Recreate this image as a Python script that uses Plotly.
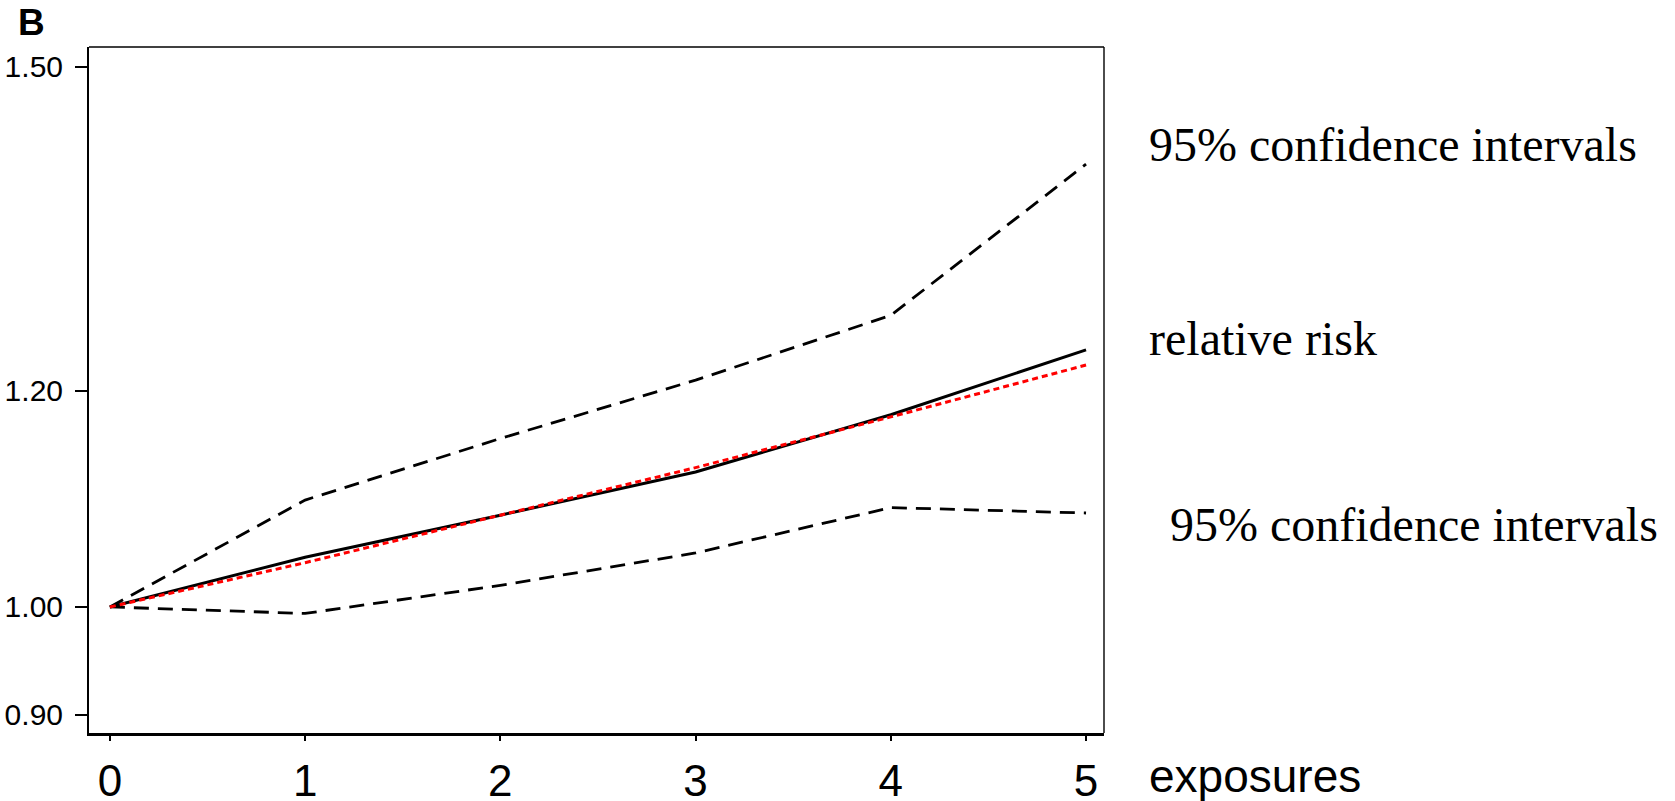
import plotly.graph_objects as go

# Exposure counts and estimated effects
exposures = [0, 1, 2, 3, 4, 5]
relative_risk = [1.000, 1.046, 1.085, 1.125, 1.178, 1.238]
ci_upper = [1.000, 1.099, 1.156, 1.210, 1.270, 1.410]
ci_lower = [1.000, 0.994, 1.020, 1.050, 1.092, 1.087]
trend = [1.000, 1.041, 1.085, 1.129, 1.176, 1.224]

y_ticks = [0.90, 1.00, 1.20, 1.50]
y_tick_text = ["0.90", "1.00", "1.20", "1.50"]

sans = "Liberation Sans, Arial, sans-serif"
serif = "Liberation Serif, Times New Roman, serif"

fig = go.Figure()
dash_ci = "15px,9px"
fig.add_trace(go.Scatter(x=exposures, y=ci_upper, mode="lines",
                         line=dict(color="black", width=2.8, dash=dash_ci)))
fig.add_trace(go.Scatter(x=exposures, y=ci_lower, mode="lines",
                         line=dict(color="black", width=2.8, dash=dash_ci)))
fig.add_trace(go.Scatter(x=exposures, y=relative_risk, mode="lines",
                         line=dict(color="black", width=3)))
fig.add_trace(go.Scatter(x=exposures, y=trend, mode="lines",
                         line=dict(color="#ff0000", width=3, dash="6px,4px")))

fig.update_layout(
    width=1675, height=801,
    margin=dict(l=89, r=571, t=47, b=68, autoexpand=False),
    paper_bgcolor="white", plot_bgcolor="white",
    showlegend=False,
    xaxis=dict(
        range=[-0.107, 5.092], tickvals=exposures,
        ticktext=[str(v) for v in exposures],
        showgrid=False, zeroline=False, automargin=False,
        showline=True, linecolor="black", linewidth=2.6,
        ticks="outside", ticklen=5, tickwidth=1.5, tickcolor="black",
        tickfont=dict(family=sans, size=44, color="black"),
        ticklabelstandoff=2,
    ),
    yaxis=dict(
        range=[0.8833, 1.5185], tickvals=y_ticks, ticktext=y_tick_text,
        showgrid=False, zeroline=False, automargin=False,
        showline=True, linecolor="black", linewidth=2,
        ticks="outside", ticklen=12, tickwidth=1.5, tickcolor="black",
        tickfont=dict(family=sans, size=30, color="black"),
        ticklabelstandoff=6,
    ),
    shapes=[
        dict(type="line", xref="paper", yref="paper", x0=0, x1=1, y0=1, y1=1,
             line=dict(color="black", width=1.4)),
        dict(type="line", xref="paper", yref="paper", x0=1, x1=1, y0=0, y1=1,
             line=dict(color="black", width=1.4)),
    ],
    annotations=[
        dict(text="<b>B</b>", xref="paper", yref="paper", x=-0.072, y=1.036,
             xanchor="left", yanchor="middle", showarrow=False,
             font=dict(family=sans, size=37, color="black")),
        dict(text="exposures", xref="paper", yref="paper", x=1.0428, y=-0.0625,
             xanchor="left", yanchor="middle", showarrow=False,
             font=dict(family=sans, size=46, color="black")),
        dict(text="95% confidence intervals", xref="paper", yref="y",
             x=1.042, y=1.428, xanchor="left", yanchor="middle", showarrow=False,
             font=dict(family=serif, size=48, color="black")),
        dict(text="relative risk", xref="paper", yref="y",
             x=1.042, y=1.249, xanchor="left", yanchor="middle", showarrow=False,
             font=dict(family=serif, size=48, color="black")),
        dict(text="95% confidence intervals", xref="paper", yref="y",
             x=1.0626, y=1.076, xanchor="left", yanchor="middle", showarrow=False,
             font=dict(family=serif, size=48, color="black")),
    ],
)

fig.write_html("out.html")
